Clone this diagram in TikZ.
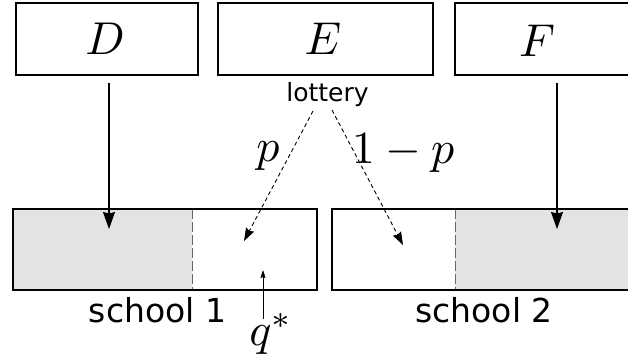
\documentclass[tikz,border=0pt]{standalone}
\usepackage{fontspec}
\setmainfont{DejaVu Sans}
\usetikzlibrary{arrows.meta}
\begin{document}
\begin{tikzpicture}[x=1pt,y=-1pt,
  topbox/.style={draw, line width=1.2pt, minimum height=72pt, inner sep=0pt},
  mathlbl/.style={scale=4.6, inner sep=0pt},
  schooltxt/.style={font=\fontsize{33}{40}\selectfont, inner sep=0pt, anchor=base},
  mainarrow/.style={line width=1.3pt, -{Stealth[length=17pt,width=12pt,inset=1.5pt]}},
  lotarrow/.style={line width=0.9pt, dash pattern=on 4pt off 3pt, -{Stealth[length=13pt,width=9pt,inset=1.5pt]}},
  qarrow/.style={line width=0.6pt, -{Stealth[length=8pt,width=5pt,inset=1pt]}},
  divider/.style={draw=black!60, line width=1pt, dash pattern=on 10pt off 3pt},
  schoolbox/.style={draw, line width=1.2pt}]
\useasboundingbox (0,0) rectangle (628,360);
\clip (0,0) rectangle (628,360);
% top boxes
\node[topbox, minimum width=182pt] (D) at (107,39) {};
\node[mathlbl] (Dl) at (105,39) {$D$};
\node[topbox, minimum width=215pt] (E) at (325.5,39) {};
\node[mathlbl] (El) at (323,39) {$E$};
\node[topbox, minimum width=215pt] (F) at (562.5,39) {};
\node[mathlbl] (Fl) at (537,41) {$F$};
\node[font=\fontsize{25}{30}\selectfont, inner sep=0pt, anchor=base] (lot) at (327.5,101) {lottery};
% school boxes
\fill[black!11] (13,209) rectangle (192,290);
\fill[black!11] (455,209) rectangle (660,290);
\draw[divider] (192,209) -- (192,290);
\draw[divider] (455,209) -- (455,290);
\node[schoolbox, minimum width=304pt, minimum height=81pt, inner sep=0pt] (s1) at (165,249.5) {};
\node[schoolbox, minimum width=328pt, minimum height=81pt, inner sep=0pt] (s2) at (496,249.5) {};
\node[schooltxt] (s1t) at (157.5,322) {school 1};
\node[schooltxt] (s2t) at (484,322) {school 2};
% coordinates
\coordinate (Da) at (109,83);
\coordinate (Db) at (109,229);
\coordinate (Fa) at (557,83);
\coordinate (Fb) at (557,229);
\coordinate (L1) at (313,111);
\coordinate (L2) at (332,110);
\coordinate (T1) at (244,241);
\coordinate (T2) at (403,245);
\coordinate (Qa) at (263,319);
\coordinate (Qb) at (263,270);
% arrows
\draw[mainarrow] (Da) -- (Db);
\draw[mainarrow] (Fa) -- (Fb);
\draw[lotarrow] (L1) -- (T1);
\draw[lotarrow] (L2) -- (T2);
\draw[qarrow] (Qa) -- (Qb);
% labels
\node[mathlbl, anchor=base] (p) at (268,161) {$p$};
\node[mathlbl, anchor=base] (omp) at (403,163) {$1-p$};
\node[mathlbl, anchor=base] (q) at (271,345) {$q^*$};
\end{tikzpicture}
\end{document}
